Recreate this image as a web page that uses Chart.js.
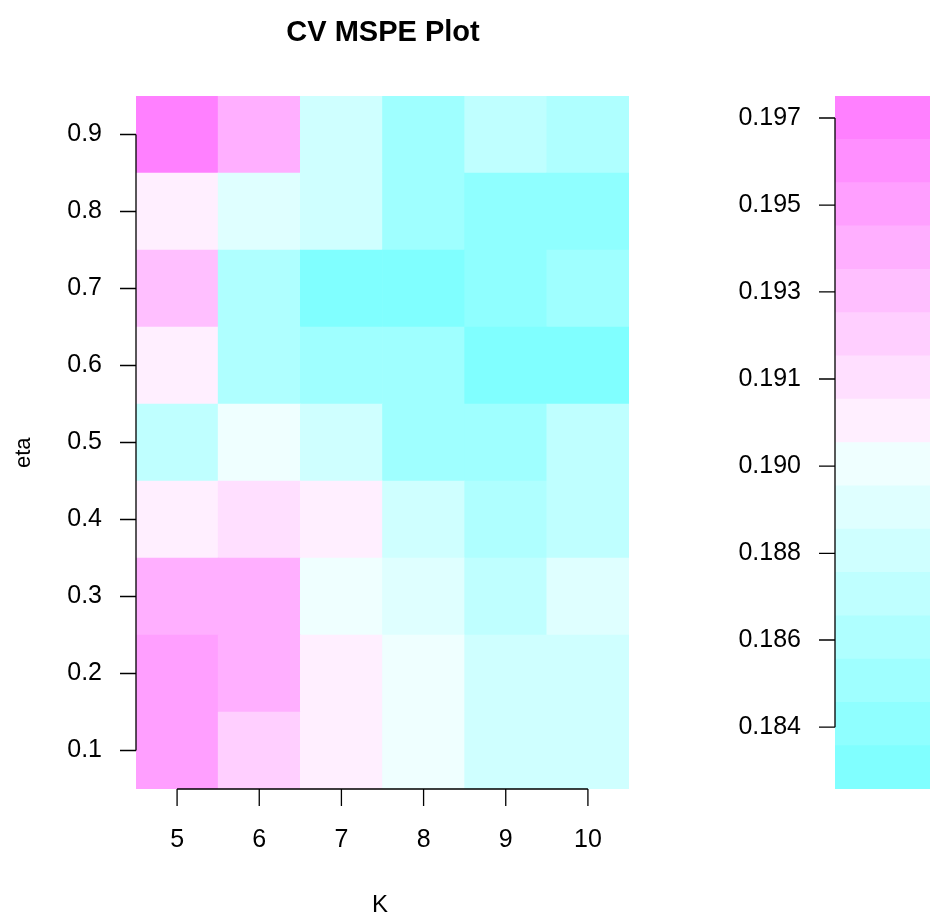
<!DOCTYPE html>
<html>
<head>
<meta charset="utf-8">
<script src="https://cdn.jsdelivr.net/npm/chart.js@4"></script>
<style>
  body { margin: 0; background: #fff; font-family: "Liberation Sans", Arial, sans-serif; }
  #wrap { position: relative; width: 932px; height: 919px; }
  canvas { position: absolute; top: 0; }
  .lbl { position: absolute; color: #000; }
</style>
</head>
<body>
<div id="wrap">
  <canvas id="main" style="left:0" width="640" height="919"></canvas>
  <canvas id="key" style="left:690px" width="242" height="919"></canvas>
  <div class="lbl" style="left:0;width:766px;top:14px;text-align:center;font-weight:bold;font-size:29px;line-height:34px">CV MSPE Plot</div>
  <div class="lbl" style="left:372px;top:892px;font-size:24px;line-height:24px">K</div>
  <div class="lbl" style="left:10px;top:468px;font-size:22px;transform:rotate(-90deg);transform-origin:left top">eta</div>
</div>
<script>
// data
const kValues = ['5', '6', '7', '8', '9', '10'];
const etaValues = [0.1, 0.2, 0.3, 0.4, 0.5, 0.6, 0.7, 0.8, 0.9];
// one row per eta (0.1 .. 0.9), one entry per K (5 .. 10)
const mspe01 = [0.1952, 0.1924, 0.1905, 0.1896, 0.1878, 0.1878];
const mspe02 = [0.1952, 0.1942, 0.1905, 0.1896, 0.1878, 0.1878];
const mspe03 = [0.1942, 0.1942, 0.1896, 0.1887, 0.1868, 0.1887];
const mspe04 = [0.1905, 0.1915, 0.1905, 0.1878, 0.1859, 0.1868];
const mspe05 = [0.1868, 0.1896, 0.1878, 0.1846, 0.1846, 0.1868];
const mspe06 = [0.1905, 0.1859, 0.1850, 0.1850, 0.1831, 0.1831];
const mspe07 = [0.1933, 0.1859, 0.1831, 0.1831, 0.1841, 0.1850];
const mspe08 = [0.1905, 0.1887, 0.1878, 0.1850, 0.1841, 0.1841];
const mspe09 = [0.1970, 0.1942, 0.1878, 0.1850, 0.1868, 0.1859];
const mspeRows = [mspe01, mspe02, mspe03, mspe04, mspe05, mspe06, mspe07, mspe08, mspe09];
const zMin = 0.18268, zMax = 0.19747;
const keyTicks = [0.18400, 0.18586, 0.18771, 0.18957, 0.19143, 0.19329, 0.19514, 0.19700];
const nColors = 16;

// cm.colors(16) as in R
function cmColors(n) {
  const k = n / 2, out = [];
  for (let i = 0; i < k; i++) {
    const s = 0.5 - i * (0.5 - 0.5 / k) / (k - 1);
    out.push(`rgb(${Math.round(255 * (1 - s))},255,255)`);
  }
  for (let i = 1; i <= k; i++) {
    const s = i * 0.5 / k;
    out.push(`rgb(255,${Math.round(255 * (1 - s))},255)`);
  }
  return out;
}
const palette = cmColors(nColors);
const binW = (zMax - zMin) / nColors;
const colorOf = v => palette[Math.max(0, Math.min(nColors - 1, Math.floor((v - zMin) / binW)))];

const tickFont = { family: '"Liberation Sans", Arial, sans-serif', size: 25 };

// R style axes: line from first to last tick, ticks pointing outward
const rAxes = {
  id: 'rAxes',
  afterDraw(chart, args, opts) {
    const ctx = chart.ctx, a = chart.chartArea;
    ctx.save();
    ctx.strokeStyle = '#000';
    ctx.lineWidth = 1.3;
    ctx.beginPath();
    const ys = chart.scales.y, yt = opts.yTicks.map(v => ys.getPixelForValue(v));
    ctx.moveTo(a.left, Math.min(...yt)); ctx.lineTo(a.left, Math.max(...yt));
    yt.forEach(p => { ctx.moveTo(a.left, p); ctx.lineTo(a.left - 16, p); });
    if (opts.xTicks) {
      const xs = chart.scales.x, xt = opts.xTicks.map((v, i) => xs.getPixelForTick(i));
      ctx.moveTo(Math.min(...xt), a.bottom); ctx.lineTo(Math.max(...xt), a.bottom);
      xt.forEach(p => { ctx.moveTo(p, a.bottom); ctx.lineTo(p, a.bottom + 17); });
    }
    ctx.stroke();
    ctx.restore();
  }
};

// --- main heatmap ---
const mainSets = etaValues.map((eta, r) => ({
  data: kValues.map(() => [eta - 0.05, eta + 0.05]),
  backgroundColor: mspeRows[r].map(colorOf),
  borderWidth: 0,
  grouped: false,
  barPercentage: 1,
  categoryPercentage: 1
}));

new Chart(document.getElementById('main'), {
  type: 'bar',
  data: { labels: kValues, datasets: mainSets },
  options: {
    responsive: false,
    animation: false,
    layout: { padding: { top: 96, right: 11 } },
    plugins: { legend: { display: false }, tooltip: { enabled: false }, rAxes: { yTicks: etaValues, xTicks: kValues } },
    scales: {
      x: {
        grid: { display: false, drawTicks: false }, border: { display: false },
        ticks: { padding: 36, color: '#000', font: tickFont },
        afterFit: s => { s.height = 130; }
      },
      y: {
        min: 0.05, max: 0.95,
        grid: { display: false, drawTicks: false }, border: { display: false },
        afterBuildTicks: s => { s.ticks = etaValues.map(v => ({ value: v })); },
        ticks: { padding: 34, color: '#000', font: tickFont, callback: v => v.toFixed(1) },
        afterFit: s => { s.width = 136; }
      }
    }
  },
  plugins: [rAxes]
});

// --- colour key ---
const keySets = palette.map((c, i) => ({
  data: [[zMin + i * binW, zMin + (i + 1) * binW]],
  backgroundColor: c,
  borderWidth: 0,
  grouped: false,
  barPercentage: 1,
  categoryPercentage: 1
}));

new Chart(document.getElementById('key'), {
  type: 'bar',
  data: { labels: [''], datasets: keySets },
  options: {
    responsive: false,
    animation: false,
    layout: { padding: { top: 96, right: 2 } },
    plugins: { legend: { display: false }, tooltip: { enabled: false }, rAxes: { yTicks: keyTicks } },
    scales: {
      x: { display: true, grid: { display: false, drawTicks: false }, border: { display: false },
           ticks: { display: false }, afterFit: s => { s.height = 130; } },
      y: {
        min: zMin, max: zMax,
        grid: { display: false, drawTicks: false }, border: { display: false },
        afterBuildTicks: s => { s.ticks = keyTicks.map(v => ({ value: v })); },
        ticks: { padding: 34, color: '#000', font: tickFont, callback: v => v.toFixed(3) },
        afterFit: s => { s.width = 145; }
      }
    }
  },
  plugins: [rAxes]
});
</script>
</body>
</html>
